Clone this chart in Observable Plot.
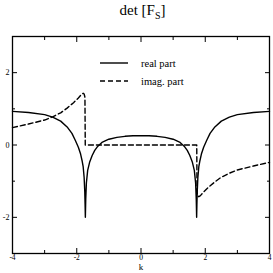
<!DOCTYPE html>
<html><head><meta charset="utf-8">
<script src="https://cdn.jsdelivr.net/npm/d3@7"></script>
<script src="https://cdn.jsdelivr.net/npm/@observablehq/plot@0.6"></script>
<style>
body{margin:0;background:#fff;}
#wrap{position:relative;width:273px;height:273px;font-family:"Liberation Serif","Times New Roman",serif;color:#000;}
#title{position:absolute;top:2px;left:12px;width:261px;text-align:center;font-size:15px;line-height:16px;}
#title sub{font-size:10px;vertical-align:-4px;line-height:0;}
#legend{position:absolute;left:100px;top:56px;}
#legend text{font-family:"Liberation Serif","Times New Roman",serif;font-size:10.5px;}
</style></head><body>
<div id="wrap"><div id="chart"></div><div id="title">det [F<sub>S</sub>]</div><div id="legend"></div></div>
<script>
// Real part of det[F_S] versus k
const realK = [-4, -3.5, -3, -2.75, -2.5, -2.3, -2.15, -2.05, -1.95, -1.88, -1.83, -1.8, -1.77, -1.75, -1.74, -1.732, -1.72, -1.70, -1.66, -1.60, -1.52, -1.44, -1.36, -1.2, -1.0, -0.75, -0.5, -0.25, 0, 0.25, 0.5, 0.75, 1.0, 1.2, 1.36, 1.44, 1.52, 1.60, 1.66, 1.70, 1.72, 1.732, 1.74, 1.75, 1.77, 1.8, 1.83, 1.88, 1.95, 2.05, 2.15, 2.3, 2.5, 2.75, 3, 3.5, 4];
const realV = [0.93, 0.90, 0.84, 0.77, 0.66, 0.50, 0.32, 0.14, -0.06, -0.25, -0.45, -0.6, -0.9, -1.3, -1.65, -2.0, -1.5, -1.05, -0.70, -0.48, -0.29, -0.15, -0.05, 0.08, 0.16, 0.21, 0.24, 0.255, 0.26, 0.255, 0.24, 0.21, 0.16, 0.08, -0.05, -0.15, -0.29, -0.48, -0.70, -1.05, -1.5, -2.0, -1.65, -1.3, -0.9, -0.6, -0.45, -0.25, -0.06, 0.14, 0.32, 0.50, 0.66, 0.77, 0.84, 0.90, 0.93];
// Imaginary part
const imagK = [-4, -3.5, -3, -2.75, -2.5, -2.3, -2.1, -1.95, -1.85, -1.8, -1.77, -1.745, -1.735, 1.735, 1.745, 1.77, 1.8, 1.85, 1.95, 2.1, 2.3, 2.5, 2.75, 3, 3.5, 4];
const imagV = [0.48, 0.58, 0.69, 0.78, 0.89, 1.02, 1.17, 1.30, 1.40, 1.43, 1.41, 1.32, 0, 0, -1.32, -1.41, -1.43, -1.40, -1.30, -1.17, -1.02, -0.89, -0.78, -0.69, -0.58, -0.48];
// Ticks
const xLabelTicks = [-4, -2, 0, 2, 4];
const xMajorTicks = [-2, 0, 2];
const xMinorTicks = [-3, -1, 1, 3];
const yLabelTicks = [-2, 0, 2];
const yMajorTicks = [-2, 0, 2];
const yMinorTicks = [-1, 1];
const seriesNames = ["real part", "imag. part"];
const xTitle = "k";

const realData = realK.map((k, i) => ({k, v: realV[i]}));
const imagData = imagK.map((k, i) => ({k, v: imagV[i]}));
const fmt = d => String(d);

const chart = Plot.plot({
  width: 273, height: 273,
  marginLeft: 12, marginRight: 4, marginTop: 36, marginBottom: 20,
  style: {fontFamily: "Liberation Serif, Times New Roman, serif", fontSize: "8px", background: "white", color: "black"},
  x: {domain: [-4, 4]},
  y: {domain: [-3, 3]},
  marks: [
    Plot.line(realData, {x: "k", y: "v", stroke: "black", strokeWidth: 1.4}),
    Plot.line(imagData, {x: "k", y: "v", stroke: "black", strokeWidth: 1.4, strokeDasharray: "5,3"}),
    Plot.axisX(xMajorTicks, {anchor: "bottom", tickSize: -5, fill: "none", label: null}),
    Plot.axisX(xMinorTicks, {anchor: "bottom", tickSize: -3, fill: "none", label: null}),
    Plot.axisX(xMajorTicks, {anchor: "top", tickSize: -5, fill: "none", label: null}),
    Plot.axisX(xMinorTicks, {anchor: "top", tickSize: -3, fill: "none", label: null}),
    Plot.axisY(yMajorTicks, {anchor: "left", tickSize: -5, fill: "none", label: null}),
    Plot.axisY(yMinorTicks, {anchor: "left", tickSize: -3, fill: "none", label: null}),
    Plot.axisY(yMajorTicks, {anchor: "right", tickSize: -5, fill: "none", label: null}),
    Plot.axisY(yMinorTicks, {anchor: "right", tickSize: -3, fill: "none", label: null}),
    Plot.axisX(xLabelTicks, {anchor: "bottom", tickSize: 0, tickPadding: 1.5, fontSize: 7.5, label: null, tickFormat: fmt}),
    Plot.axisY(yLabelTicks, {anchor: "left", tickSize: 0, tickPadding: 3, label: null, tickFormat: fmt}),
    Plot.text([xTitle], {frameAnchor: "bottom", dy: 10.5, lineAnchor: "top", fontSize: 9, text: d => d}),
    Plot.frame({stroke: "black", strokeWidth: 1.3})
  ]
});
document.getElementById("chart").appendChild(chart);

// Legend
const lg = d3.select("#legend").append("svg").attr("width", 95).attr("height", 32);
seriesNames.forEach((name, i) => {
  const y = 7 + i * 18;
  lg.append("line").attr("x1", 0).attr("x2", 28).attr("y1", y).attr("y2", y)
    .attr("stroke", "black").attr("stroke-width", 1.4)
    .attr("stroke-dasharray", i === 1 ? "5,3" : null);
  lg.append("text").attr("x", 41).attr("y", y + 3.5).text(name);
});
</script>
</body></html>
